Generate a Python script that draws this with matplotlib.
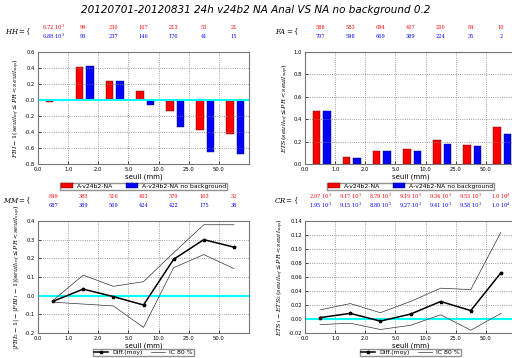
import numpy as np
import matplotlib
matplotlib.use('Agg')
from matplotlib import pyplot as plt

# Seuils et scores par classe
seuils = ['0.0', '1.0', '2.0', '5.0', '10.0', '25.0', '50.0']
run1 = 'A-v24b2-NA'
run2 = 'A-v24b2-NA no background'

fbi_1 = [-0.03, 0.41, 0.24, 0.11, -0.14, -0.37, -0.42]
fbi_2 = [0.0, 0.43, 0.24, -0.06, -0.34, -0.65, -0.68]
ets_1 = [0.47, 0.065, 0.12, 0.13, 0.21, 0.17, 0.33]
ets_2 = [0.47, 0.055, 0.12, 0.12, 0.18, 0.16, 0.27]

dfbi_moy = [-0.03, 0.035, -0.005, -0.05, 0.195, 0.30, 0.26]
dfbi_sup = [-0.025, 0.11, 0.05, 0.075, 0.23, 0.38, 0.38]
dfbi_inf = [-0.035, -0.045, -0.055, -0.17, 0.15, 0.22, 0.145]

dets_moy = [0.002, 0.008, -0.003, 0.007, 0.025, 0.012, 0.066]
dets_sup = [0.013, 0.022, 0.009, 0.025, 0.044, 0.042, 0.124]
dets_inf = [-0.008, -0.006, -0.015, -0.009, 0.006, -0.016, 0.008]

hh_1 = [r'$6.72\ 10^3$', '99', '230', '167', '213', '53', '21']
hh_2 = [r'$6.88\ 10^3$', '93', '237', '146', '170', '41', '15']
fa_1 = ['588', '583', '694', '467', '200', '84', '10']
fa_2 = ['707', '598', '669', '389', '224', '35', '2']
mm_1 = ['849', '383', '516', '403', '379', '163', '32']
mm_2 = ['687', '389', '509', '424', '422', '175', '38']
cr_1 = [r'$2.07\ 10^3$', r'$9.17\ 10^3$', r'$8.79\ 10^3$', r'$9.19\ 10^3$',
        r'$9.34\ 10^3$', r'$9.53\ 10^3$', r'$1.0\ 10^4$']
cr_2 = [r'$1.95\ 10^3$', r'$9.15\ 10^3$', r'$8.80\ 10^3$', r'$9.27\ 10^3$',
        r'$9.41\ 10^3$', r'$9.58\ 10^3$', r'$1.0\ 10^4$']

plt.rcParams['mathtext.fontset'] = 'dejavuserif'
plt.rcParams['xtick.direction'] = 'in'
plt.rcParams['ytick.direction'] = 'in'

fig = plt.figure(figsize=(5.12, 3.58), dpi=100)
fig.suptitle('20120701-20120831 24h v24b2 NA Anal VS NA no background 0.2',
             style='italic', fontsize=7.5, y=0.985)

W = 211 / 512.
H = 112 / 358.
axes = {
    'fbi': fig.add_axes([38 / 512., 1 - 164 / 358., W, H]),
    'ets': fig.add_axes([305 / 512., 1 - 164 / 358., W, H]),
    'dfbi': fig.add_axes([38 / 512., 1 - 333 / 358., W, H]),
    'dets': fig.add_axes([305 / 512., 1 - 333 / 358., W, H]),
}

x = np.arange(len(seuils))
tick_fs = 3.8
ylab_fs = 4.6
leg_kw = dict(loc='upper center', ncol=2, fontsize=4.4, borderpad=0.15,
              frameon=True, fancybox=False, edgecolor='#777777',
              handletextpad=0.7, borderaxespad=0.2)


def style_axes(ax):
    ax.set_xlim(0, 7)
    ax.set_xticks(x)
    ax.set_xticklabels(seuils, fontsize=tick_fs)
    ax.tick_params(axis='y', labelsize=tick_fs, length=2, width=0.5, pad=2)
    ax.tick_params(axis='x', length=2, width=0.5, pad=2)
    ax.grid(True, linestyle=':', color='gray', linewidth=0.6)
    for s in ax.spines.values():
        s.set_color('#777777')
        s.set_linewidth(0.8)
    ax.set_xlabel('seuil (mm)', fontsize=5, labelpad=1)


def counts(ax, name, row1, row2):
    for i in range(len(seuils)):
        ax.text(i + 0.5, 1.22, row1[i], transform=ax.get_xaxis_transform(),
                color='red', fontsize=3.6, ha='center', va='center', family='serif')
        ax.text(i + 0.5, 1.14, row2[i], transform=ax.get_xaxis_transform(),
                color='blue', fontsize=3.6, ha='center', va='center', family='serif')
    ax.text(-0.03, 1.18, r'$%s=\{$' % name, transform=ax.transAxes,
            fontsize=5, ha='right', va='center')


# FBI
ax = axes['fbi']
ax.bar(x + 0.25, fbi_1, 0.25, align='edge', color='red', edgecolor='#550000', linewidth=0.3, label=run1)
ax.bar(x + 0.6, fbi_2, 0.25, align='edge', color='blue', edgecolor='#000055', linewidth=0.3, label=run2)
ax.axhline(0, color='cyan', linewidth=1.5)
ax.set_ylim(-0.8, 0.6)
ax.set_yticks(np.arange(-0.8, 0.61, 0.2))
ax.set_yticklabels(['%.1f' % v for v in np.arange(-0.8, 0.61, 0.2)])
style_axes(ax)
ax.set_ylabel(r'$FBI-1(seuil_{inf}\leq PR<seuil_{sup})$', fontsize=ylab_fs, labelpad=2)
ax.legend(bbox_to_anchor=(0.5, -0.155), handlelength=2.0, columnspacing=2.0, **leg_kw)
counts(ax, 'HH', hh_1, hh_2)

# ETS
ax = axes['ets']
ax.bar(x + 0.25, ets_1, 0.25, align='edge', color='red', edgecolor='#550000', linewidth=0.3, label=run1)
ax.bar(x + 0.6, ets_2, 0.25, align='edge', color='blue', edgecolor='#000055', linewidth=0.3, label=run2)
ax.axhline(1.0, color='#20b2aa', linewidth=1.5)
ax.set_ylim(0, 1.0)
ax.set_yticks(np.arange(0, 1.01, 0.2))
ax.set_yticklabels(['%.1f' % v for v in np.arange(0, 1.01, 0.2)])
style_axes(ax)
ax.set_ylabel(r'$ETS(seuil_{inf}\leq PR<seuil_{sup})$', fontsize=ylab_fs, labelpad=2)
ax.legend(bbox_to_anchor=(0.5, -0.155), handlelength=2.0, columnspacing=2.0, **leg_kw)
counts(ax, 'FA', fa_1, fa_2)

# Differences FBI
ax = axes['dfbi']
ax.axhline(0, color='cyan', linewidth=1.5)
ax.plot(x + 0.5, dfbi_moy, 'k-', marker='*', markersize=2.5, linewidth=1.1, label='Diff.(moy)')
ax.plot(x + 0.5, dfbi_sup, '-', color='#333333', linewidth=0.5, label='IC 80 %')
ax.plot(x + 0.5, dfbi_inf, '-', color='#333333', linewidth=0.5)
ax.set_ylim(-0.2, 0.4)
ax.set_yticks(np.arange(-0.2, 0.41, 0.1))
ax.set_yticklabels(['%.1f' % v for v in np.arange(-0.2, 0.41, 0.1)])
style_axes(ax)
ax.set_ylabel(r'$|FBI_2-1|-|FBI_1-1|(seuil_{inf}\leq PR<seuil_{sup})$', fontsize=ylab_fs, labelpad=2)
ax.legend(bbox_to_anchor=(0.5, -0.13), handlelength=2.3, columnspacing=1.3, **leg_kw)
counts(ax, 'MM', mm_1, mm_2)

# Differences ETS
ax = axes['dets']
ax.axhline(0, color='cyan', linewidth=1.5)
ax.plot(x + 0.5, dets_moy, 'k-', marker='*', markersize=2.5, linewidth=1.1, label='Diff.(moy)')
ax.plot(x + 0.5, dets_sup, '-', color='#333333', linewidth=0.5, label='IC 80 %')
ax.plot(x + 0.5, dets_inf, '-', color='#333333', linewidth=0.5)
ax.set_ylim(-0.02, 0.14)
ax.set_yticks(np.arange(-0.02, 0.141, 0.02))
ax.set_yticklabels(['%.2f' % v for v in np.arange(-0.02, 0.141, 0.02)])
style_axes(ax)
ax.set_ylabel(r'$ETS_1-ETS_2\,(seuil_{inf}\leq PR<seuil_{sup})$', fontsize=ylab_fs, labelpad=2)
ax.legend(bbox_to_anchor=(0.5, -0.13), handlelength=2.3, columnspacing=1.3, **leg_kw)
counts(ax, 'CR', cr_1, cr_2)

fig.savefig('out.png', dpi=100)
